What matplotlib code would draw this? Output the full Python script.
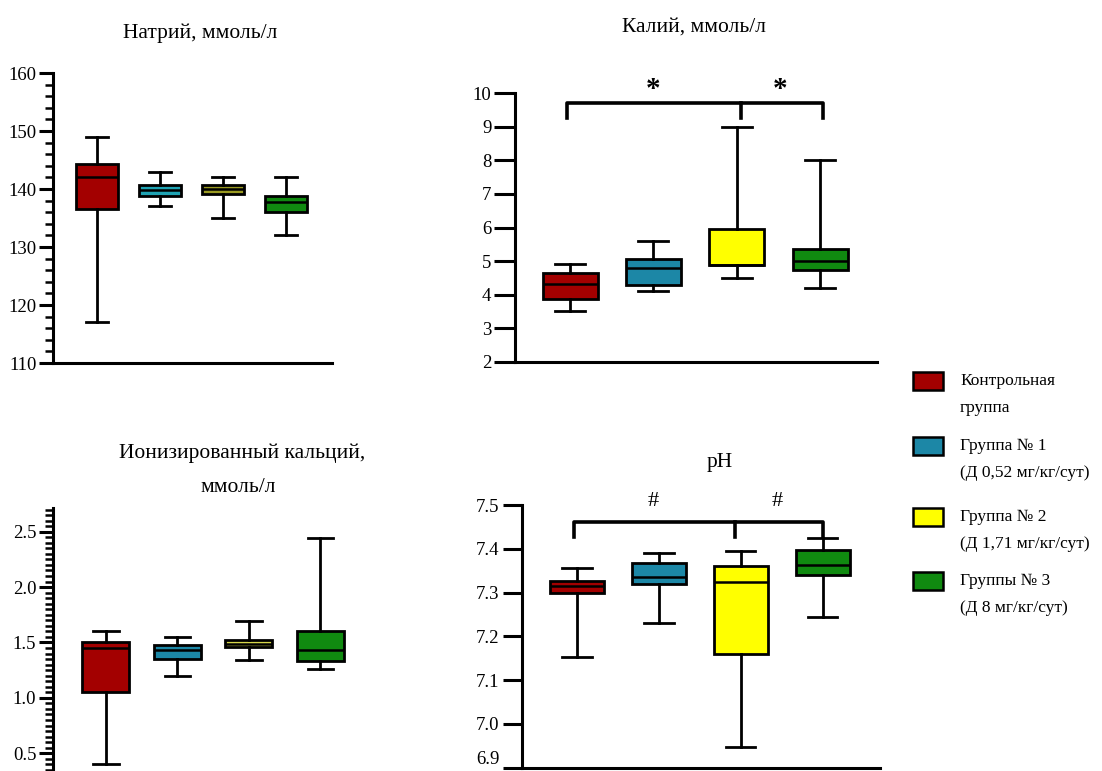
import matplotlib
matplotlib.use("Agg")
import matplotlib.pyplot as plt
import matplotlib.ticker as mticker
from matplotlib.patches import Rectangle

plt.rcParams['font.family'] = ['Liberation Serif', 'DejaVu Serif']

groups = ['Контрольная\nгруппа', 'Группа № 1\n(Д 0,52 мг/кг/сут)',
          'Группа № 2\n(Д 1,71 мг/кг/сут)', 'Группы № 3\n(Д 8 мг/кг/сут)']
colors = ['#a30000', '#1c87a6', '#ffff00', '#108a10']

# Натрий
na_low = [117, 137, 135, 132]
na_q1 = [136.6, 138.8, 139.1, 136.1]
na_med = [142, 139.8, 140, 137.8]
na_q3 = [144.3, 140.7, 140.7, 138.8]
na_high = [149, 143, 142, 142]

# Калий
k_low = [3.5, 4.1, 4.5, 4.2]
k_q1 = [3.88, 4.28, 4.88, 4.73]
k_med = [4.33, 4.78, 4.88, 5.0]
k_q3 = [4.63, 5.05, 5.95, 5.35]
k_high = [4.9, 5.6, 9.0, 8.0]

# Ионизированный кальций
ca_low = [0.40, 1.20, 1.34, 1.26]
ca_q1 = [1.05, 1.355, 1.46, 1.33]
ca_med = [1.45, 1.43, 1.49, 1.43]
ca_q3 = [1.50, 1.48, 1.52, 1.605]
ca_high = [1.60, 1.545, 1.69, 2.44]

# pH
ph_low = [7.153, 7.23, 6.948, 7.245]
ph_q1 = [7.30, 7.32, 7.16, 7.34]
ph_med = [7.315, 7.335, 7.325, 7.362]
ph_q3 = [7.327, 7.368, 7.36, 7.397]
ph_high = [7.357, 7.39, 7.395, 7.425]

W, H = 1102, 771
fig = plt.figure(figsize=(W / 100, H / 100), dpi=100)


def px_axes(x0, x1, ytop, ybot):
    return fig.add_axes([x0 / W, 1 - ybot / H, (x1 - x0) / W, (ybot - ytop) / H])


def draw_boxes(ax, low, q1, med, q3, high, fills):
    stats = []
    for i in range(4):
        stats.append(dict(whislo=low[i], q1=q1[i], med=med[i], q3=q3[i],
                          whishi=high[i], fliers=[]))
    bp = ax.bxp(stats, positions=[1, 2, 3, 4], widths=0.66, capwidths=0.36,
                patch_artist=True, showfliers=False,
                boxprops=dict(linewidth=2.0, edgecolor='black'),
                medianprops=dict(color='black', linewidth=1.8),
                whiskerprops=dict(color='black', linewidth=2.0),
                capprops=dict(color='black', linewidth=2.0))
    for patch, c in zip(bp['boxes'], fills):
        patch.set_facecolor(c)


def style(ax, tick_len, bottom=True):
    for s in ['top', 'right']:
        ax.spines[s].set_visible(False)
    ax.spines['left'].set_linewidth(2.2)
    ax.spines['bottom'].set_linewidth(2.2)
    if not bottom:
        ax.spines['bottom'].set_visible(False)
    ax.set_xticks([])
    ax.tick_params(axis='y', which='major', length=tick_len, width=2.2, labelsize=13.5, pad=2)
    ax.tick_params(axis='y', which='minor', length=6, width=1.8)


# Натрий
ax1 = px_axes(53, 332, 73, 363)
draw_boxes(ax1, na_low, na_q1, na_med, na_q3, na_high,
           ['#a30000', '#1fa3b3', '#9a9a22', '#108a10'])
ax1.set_xlim(0.30, 4.73)
ax1.set_ylim(110, 160)
ax1.set_yticks([110, 120, 130, 140, 150, 160])
ax1.yaxis.set_minor_locator(mticker.MultipleLocator(2))
style(ax1, 10)

# Калий
ax2 = px_axes(515, 877, 93.3, 361.7)
draw_boxes(ax2, k_low, k_q1, k_med, k_q3, k_high, colors)
ax2.set_xlim(0.34, 4.68)
ax2.set_ylim(2, 10)
ax2.set_yticks(range(2, 11))
style(ax2, 15)
ax2.plot([0.96, 0.96, 4.03, 4.03], [9.25, 9.7, 9.7, 9.25], color='black', lw=2.6,
         clip_on=False)
ax2.plot([3.05, 3.05], [9.7, 9.25], color='black', lw=2.6, clip_on=False)
for xs in [2.0, 3.52]:
    ax2.text(xs, 10.12, '*', ha='center', va='center', fontsize=21,
             fontweight='bold', clip_on=False)

# Ионизированный кальций
ax3 = px_axes(53, 374, 508.3, 771)
draw_boxes(ax3, ca_low, ca_q1, ca_med, ca_q3, ca_high,
           ['#a30000', '#1c87a6', '#d6d64a', '#108a10'])
ax3.set_xlim(0.26, 4.75)
ax3.set_ylim(0.34, 2.711)
ax3.set_yticks([0.5, 1.0, 1.5, 2.0, 2.5])
ax3.yaxis.set_major_formatter(mticker.FormatStrFormatter('%.1f'))
ax3.yaxis.set_minor_locator(mticker.MultipleLocator(0.05))
style(ax3, 10, bottom=False)

# pH
ax4 = px_axes(521.7, 880, 505, 767.5)
draw_boxes(ax4, ph_low, ph_q1, ph_med, ph_q3, ph_high, colors)
ax4.set_xlim(0.326, 4.70)
ax4.set_ylim(6.9, 7.5)
ax4.set_yticks([6.9, 7.0, 7.1, 7.2, 7.3, 7.4, 7.5])
ax4.yaxis.set_major_formatter(mticker.FormatStrFormatter('%.1f'))
style(ax4, 14)
fig.canvas.draw()
ax4.get_yticklabels()[0].set_verticalalignment('bottom')
ax4.plot([0.96, 0.96, 4.0, 4.0], [7.427, 7.462, 7.462, 7.427], color='black', lw=2.6,
         clip_on=False)
ax4.plot([2.93, 2.93], [7.462, 7.427], color='black', lw=2.6, clip_on=False)
for xs in [1.93, 3.45]:
    ax4.text(xs, 7.508, '#', ha='center', va='center', fontsize=16, clip_on=False)

# titles
fig.text(200 / W, 1 - 33 / H, 'Натрий, ммоль/л', ha='center', va='center', fontsize=15.5)
fig.text(694 / W, 1 - 27 / H, 'Калий, ммоль/л', ha='center', va='center', fontsize=15.5)
fig.text(242 / W, 1 - 453 / H, 'Ионизированный кальций,', ha='center', va='center', fontsize=15.5)
fig.text(238 / W, 1 - 487 / H, 'ммоль/л', ha='center', va='center', fontsize=15.5)
fig.text(720 / W, 1 - 463 / H, 'pH', ha='center', va='center', fontsize=15.5)

# legend
leg_y = [381, 446, 517, 581]
for lab, c, yc in zip(groups, colors, leg_y):
    fig.add_artist(Rectangle((913 / W, 1 - (yc + 9) / H), 30 / W, 18 / H,
                             facecolor=c, edgecolor='black', linewidth=1.8,
                             transform=fig.transFigure))
    for j, line in enumerate(lab.split('\n')):
        fig.text(960 / W, 1 - (yc + 27 * j) / H, line, ha='left', va='center', fontsize=12.5)

fig.savefig('out.png', dpi=100)
